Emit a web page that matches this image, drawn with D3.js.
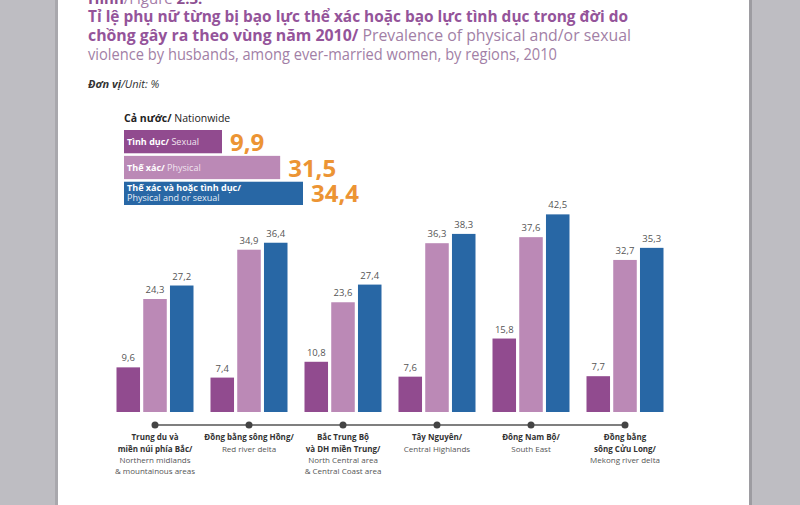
<!DOCTYPE html>
<html><head><meta charset="utf-8">
<script src="https://cdn.jsdelivr.net/npm/d3@7/dist/d3.min.js"></script>
<style>
html,body{margin:0;padding:0;background:#bebdc2;}
svg{display:block;}
</style></head>
<body><svg id="c" width="800" height="505"></svg>
<script>
const regionsVi = [["Trung du và","miền núi phía Bắc/"],["Đồng bằng sông Hồng/"],["Bắc Trung Bộ","và DH miền Trung/"],["Tây Nguyên/"],["Đông Nam Bộ/"],["Đồng bằng","sông Cửu Long/"]];
const regionsEn = [["Northern midlands","& mountainous areas"],["Red river delta"],["North Central area","& Central Coast area"],["Central Highlands"],["South East"],["Mekong river delta"]];
const seriesKeys = ["sexual","physical","both"];
const sexual   = [9.6, 7.4, 10.8, 7.6, 15.8, 7.7];
const physical = [24.3, 34.9, 23.6, 36.3, 37.6, 32.7];
const both     = [27.2, 36.4, 27.4, 38.3, 42.5, 35.3];
const nationalVi = ["Tình dục/", "Thế xác/", "Thế xác và hoặc tình dục/"];
const nationalEn = ["Sexual", "Physical", "Physical and or sexual"];
const nationalVals = [9.9, 31.5, 34.4];
const colors = {sexual:"#914b8f", physical:"#bb89b6", both:"#2867a5"};

const svg = d3.select("#c");
const F = "'Open Sans', 'Noto Sans', sans-serif";
const fmt = v => String(v).replace(".", ",");

// page
svg.append("rect").attr("x",0).attr("y",0).attr("width",800).attr("height",505).attr("fill","#bebdc2");
svg.append("rect").attr("x",58).attr("y",0).attr("width",691).attr("height",505).attr("fill","#ffffff");
svg.append("rect").attr("x",749).attr("y",0).attr("width",3).attr("height",505).attr("fill","#9d9ca1");
svg.append("rect").attr("x",55).attr("y",0).attr("width",3).attr("height",505).attr("fill","#a9a8ad");

// title
const t0 = svg.append("text").attr("x",88).attr("y",4).attr("font-family",F).attr("font-size",15).attr("fill","#8c4e90");
t0.append("tspan").attr("font-weight","bold").text("Hình");
t0.append("tspan").attr("fill","#a47ca8").text("/Figure ");
t0.append("tspan").attr("font-weight","bold").text("2.3:");

svg.append("text").attr("x",88).attr("y",22).attr("font-family",F).attr("font-size",16.5)
  .attr("font-weight","bold").attr("fill","#94549a")
  .attr("textLength",540).attr("lengthAdjust","spacingAndGlyphs")
  .text("Tỉ lệ phụ nữ từng bị bạo lực thể xác hoặc bạo lực tình dục trong đời do");
const t2 = svg.append("text").attr("x",88).attr("y",41).attr("font-family",F).attr("font-size",16.5)
  .attr("textLength",543).attr("lengthAdjust","spacingAndGlyphs");
t2.append("tspan").attr("font-weight","bold").attr("fill","#94549a").text("chồng gây ra theo vùng năm 2010/ ");
t2.append("tspan").attr("fill","#a27fa6").text("Prevalence of physical and/or sexual");
svg.append("text").attr("x",88).attr("y",60).attr("font-family",F).attr("font-size",16.5)
  .attr("fill","#a27fa6").attr("textLength",469).attr("lengthAdjust","spacingAndGlyphs")
  .text("violence by husbands, among ever-married women, by regions, 2010");

const u = svg.append("text").attr("x",88).attr("y",88).attr("font-family",F).attr("font-size",11).attr("fill","#333").attr("font-style","italic");
u.append("tspan").attr("font-weight","bold").text("Đơn vị");
u.append("tspan").text("/Unit: %");

// nationwide legend
const lg = svg.append("g");
const ln = lg.append("text").attr("x",124).attr("y",122).attr("font-family",F).attr("font-size",10.5).attr("fill","#222");
ln.append("tspan").attr("font-weight","bold").text("Cả nước/");
ln.append("tspan").text(" Nationwide");

const lx = d3.scalePow().exponent(1.55).domain([0, 34.4]).range([0, 179]);
const ly = d3.scaleBand().domain(d3.range(3)).range([130, 205]).paddingInner(0.1);
const lminW = [98, 0, 0];
nationalVals.forEach((v,i)=>{
  const w = Math.max(lx(v), lminW[i]);
  const c = colors[seriesKeys[i]];
  lg.append("rect").attr("x",124).attr("y",ly(i)).attr("width",w).attr("height",ly.bandwidth()).attr("fill",c);
  if (i < 2) {
    const tt = lg.append("text").attr("x",127).attr("y",ly(i)+ly.bandwidth()/2+3.5).attr("font-family",F).attr("font-size",9).attr("fill","#fff");
    tt.append("tspan").attr("font-weight","bold").text(nationalVi[i]);
    tt.append("tspan").attr("fill","#f1e4f0").text(" " + nationalEn[i]);
  } else {
    lg.append("text").attr("x",127).attr("y",ly(i)+9).attr("font-family",F).attr("font-size",9).attr("fill","#fff").attr("font-weight","bold").text(nationalVi[i]);
    lg.append("text").attr("x",127).attr("y",ly(i)+19.5).attr("font-family",F).attr("font-size",9).attr("fill","#e6eef7").text(nationalEn[i]);
  }
  lg.append("text").attr("x",124+w+8).attr("y",ly(i)+ly.bandwidth()/2+9).attr("font-family",F).attr("font-size",24)
    .attr("font-weight","bold").attr("fill","#ec9434").text(fmt(v));
});

// bars
const x0 = d3.scalePoint().domain(d3.range(6)).range([155, 625]);
const x1 = d3.scaleBand().domain(seriesKeys).range([-38.5, 38.5]).paddingInner(0.12);
const y = d3.scaleLinear().domain([0, 45]).range([412, 412 - 45*4.65]);
const data = {sexual, physical, both};

const g = svg.append("g");
d3.range(6).forEach(i=>{
  seriesKeys.forEach(k=>{
    const v = data[k][i];
    const bx = x0(i) + x1(k);
    g.append("rect").attr("x",bx).attr("y",y(v)).attr("width",x1.bandwidth()).attr("height",y(0)-y(v)).attr("fill",colors[k]);
    g.append("text").attr("x",bx + x1.bandwidth()/2).attr("y",y(v)-6).attr("text-anchor","middle")
      .attr("font-family",F).attr("font-size",9.5).attr("fill","#555").text(fmt(v));
  });
});

// axis with dots
const ax = svg.append("g");
ax.append("line").attr("x1",x0(0)).attr("x2",x0(5)).attr("y1",425).attr("y2",425).attr("stroke","#555").attr("stroke-width",1.5);
d3.range(6).forEach(i=>{
  ax.append("circle").attr("cx",x0(i)).attr("cy",425).attr("r",3.5).attr("fill","#444");
  let yy = 440;
  regionsVi[i].forEach(s=>{
    ax.append("text").attr("x",x0(i)).attr("y",yy).attr("text-anchor","middle").attr("font-family",F)
      .attr("font-size",8).attr("font-weight","bold").attr("fill","#333").text(s);
    yy += 11.5;
  });
  regionsEn[i].forEach(s=>{
    ax.append("text").attr("x",x0(i)).attr("y",yy).attr("text-anchor","middle").attr("font-family",F)
      .attr("font-size",8).attr("fill","#555").text(s);
    yy += 10.5;
  });
});
</script></body></html>
